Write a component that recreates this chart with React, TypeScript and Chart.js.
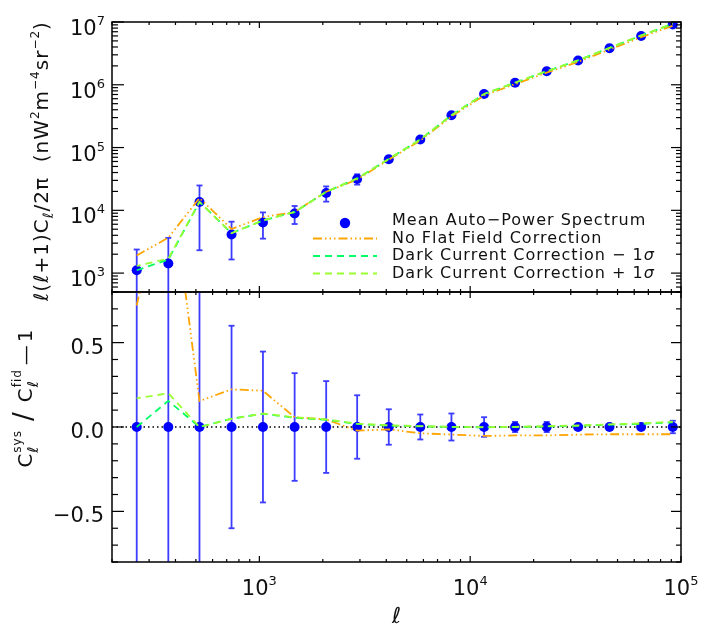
import React, { useEffect, useRef } from 'react';
import { Chart, registerables } from 'chart.js';

Chart.register(...registerables);

// ---------------- data ----------------
const ell = [262, 370, 520, 738, 1040, 1470, 2075, 2910, 4110, 5800, 8150, 11640, 16330, 23070, 32500, 45800, 64700, 91400];
const meanCl = [1110, 1420, 13600, 4120, 6400, 8890, 18900, 31600, 65200, 134000, 327000, 714000, 1080000, 1640000, 2430000, 3810000, 5980000, 9100000];
const relErr = [1.14, 1.56, 0.83, 0.6, 0.447, 0.319, 0.272, 0.188, 0.105, 0.074, 0.08, 0.058, 0.03, 0.03, 0.012, 0.012, 0.012, 0.037];
const noFlatFrac = [0.72, 1.58, 0.154, 0.223, 0.215, 0.058, 0.045, -0.022, -0.014, -0.037, -0.045, -0.053, -0.05, -0.05, -0.045, -0.043, -0.043, -0.043];
const darkMinusFrac = [0, 0.155, 0, 0.05, 0.078, 0.055, 0.043, 0.018, 0.008, 0.004, 0, -0.002, 0, 0.003, 0.007, 0.014, 0.018, 0.028];
const darkPlusFrac = [0.17, 0.2, 0, 0.048, 0.08, 0.057, 0.045, 0.02, 0.01, 0.005, 0.001, -0.001, 0.001, 0.005, 0.009, 0.016, 0.021, 0.032];

const xRange = [200, 1e5];
const yTopRange = [500, 1e7];
const yBotRange = [-0.8, 0.8];
const xTickExps = ['3', '4', '5'];
const yTopTickExps = ['3', '4', '5', '6', '7'];
const yBotTicks = [-0.5, 0, 0.5];
const yBotTickLabels = ['\u22120.5', '0.0', '0.5'];
const legendLabels = ['Mean Auto\u2212Power Spectrum', 'No Flat Field Correction', 'Dark Current Correction \u2212 1', 'Dark Current Correction + 1'];

// ---------------- styles ----------------
const W = 709;
const H = 629;
const LEFT = 112;
const RIGHT = 681;
const TOP = 22;
const MID = 292;
const BOTTOM = 562;
const FONT = '"DejaVu Sans", "Liberation Sans", sans-serif';
const TEXT = '#111';
const BLUE = '#0000ff';
const ERR_BLUE = '#3c3cff';
const ORANGE = '#ffa500';
const GREEN1 = '#00ff66';
const GREEN2 = '#99ff33';
const ORANGE_DASH = [9, 3, 1.5, 3, 1.5, 3, 1.5, 3];
const GREEN_DASH = [7, 5];

type Seg = { t: string; size: number; italic?: boolean; dy?: number; noAdv?: boolean; gap?: number };

function segFont(s: Seg) {
  return `${s.italic ? 'italic ' : ''}${s.size}px ${FONT}`;
}
function segsWidth(ctx: CanvasRenderingContext2D, segs: Seg[]) {
  let w = 0;
  for (const s of segs) {
    ctx.font = segFont(s);
    if (!s.noAdv) w += ctx.measureText(s.t).width;
    w += s.gap || 0;
  }
  return w;
}
function drawSegs(ctx: CanvasRenderingContext2D, segs: Seg[], x0: number, base: number) {
  let x = x0;
  for (const s of segs) {
    ctx.font = segFont(s);
    ctx.fillText(s.t, x, base + (s.dy || 0));
    if (!s.noAdv) x += ctx.measureText(s.t).width;
    x += s.gap || 0;
  }
}

function line(ctx: CanvasRenderingContext2D, x1: number, y1: number, x2: number, y2: number) {
  ctx.beginPath();
  ctx.moveTo(x1, y1);
  ctx.lineTo(x2, y2);
  ctx.stroke();
}

function drawPow(ctx: CanvasRenderingContext2D, exp: string, x: number, base: number, align: 'center' | 'right') {
  const segs: Seg[] = [
    { t: '10', size: 21 },
    { t: exp, size: 13, dy: -10 },
  ];
  const w = segsWidth(ctx, segs);
  const x0 = align === 'center' ? x - w / 2 : x - w;
  drawSegs(ctx, segs, x0, base);
}

function drawXTicks(ctx: CanvasRenderingContext2D, chart: any) {
  const xs = chart.scales.x;
  const a = chart.chartArea;
  for (let d = 2; d <= 5; d++) {
    for (let m = 1; m <= 9; m++) {
      const v = m * Math.pow(10, d);
      if (v < xRange[0] || v > xRange[1]) continue;
      const px = xs.getPixelForValue(v);
      const len = m === 1 ? 6 : 3;
      line(ctx, px, a.top, px, a.top + len);
      line(ctx, px, a.bottom, px, a.bottom - len);
    }
  }
}

function drawFrame(ctx: CanvasRenderingContext2D, chart: any) {
  const a = chart.chartArea;
  ctx.strokeStyle = '#000';
  ctx.lineWidth = 1.5;
  ctx.setLineDash([]);
  ctx.strokeRect(a.left, a.top, a.right - a.left, a.bottom - a.top);
  ctx.lineWidth = 1.2;
  drawXTicks(ctx, chart);
}

function errorBars(ctx: CanvasRenderingContext2D, chart: any, lo: number[], hi: number[], yMin: number, yMax: number) {
  const xs = chart.scales.x;
  const ys = chart.scales.y;
  const a = chart.chartArea;
  ctx.save();
  ctx.beginPath();
  ctx.rect(a.left, a.top, a.right - a.left, a.bottom - a.top);
  ctx.clip();
  ctx.strokeStyle = ERR_BLUE;
  ctx.lineWidth = 1.8;
  ctx.setLineDash([]);
  for (let i = 0; i < ell.length; i++) {
    const px = xs.getPixelForValue(ell[i]);
    const loV = lo[i];
    const hiV = hi[i];
    const pLo = loV > yMin ? ys.getPixelForValue(loV) : a.bottom + 2;
    const pHi = hiV < yMax ? ys.getPixelForValue(hiV) : a.top - 2;
    line(ctx, px, pLo, px, pHi);
    if (loV > yMin) line(ctx, px - 3, pLo, px + 3, pLo);
    if (hiV < yMax) line(ctx, px - 3, pHi, px + 3, pHi);
  }
  ctx.restore();
}

const topPlugin = {
  id: 'topPanel',
  beforeDatasetsDraw(chart: any) {
    const ctx = chart.ctx as CanvasRenderingContext2D;
    const lo = meanCl.map((v, i) => v * (1 - relErr[i]));
    const hi = meanCl.map((v, i) => v * (1 + relErr[i]));
    errorBars(ctx, chart, lo, hi, yTopRange[0], yTopRange[1]);
  },
  afterDraw(chart: any) {
    const ctx = chart.ctx as CanvasRenderingContext2D;
    const a = chart.chartArea;
    const ys = chart.scales.y;
    ctx.save();
    drawFrame(ctx, chart);
    // y ticks (log)
    for (let d = 2; d <= 7; d++) {
      for (let m = 1; m <= 9; m++) {
        const v = m * Math.pow(10, d);
        if (v < yTopRange[0] || v > yTopRange[1]) continue;
        const py = ys.getPixelForValue(v);
        const major = m === 1;
        line(ctx, a.left, py, a.left + (major ? 12 : 6), py);
        line(ctx, a.right, py, a.right - (major ? 10 : 5), py);
      }
    }
    ctx.fillStyle = TEXT;
    ctx.textBaseline = 'alphabetic';
    ctx.textAlign = 'left';
    for (const e of yTopTickExps) {
      const py = ys.getPixelForValue(Math.pow(10, Number(e)));
      drawPow(ctx, e, 105, py + 13, 'right');
    }
    // y title
    ctx.save();
    ctx.translate(48, 161);
    ctx.rotate(-Math.PI / 2);
    (ctx as any).letterSpacing = '1px';
    const tsegs: Seg[] = [
      { t: '\u2113', size: 20, italic: true },
      { t: '(', size: 20 },
      { t: '\u2113', size: 20, italic: true },
      { t: '+1)C', size: 20 },
      { t: '\u2113', size: 14, italic: true, dy: 5 },
      { t: '/2\u03c0', size: 20 },
      { t: '  (nW', size: 20 },
      { t: '2', size: 12, dy: -9 },
      { t: 'm', size: 20 },
      { t: '\u22124', size: 12, dy: -9 },
      { t: 'sr', size: 20 },
      { t: '\u22122', size: 12, dy: -9 },
      { t: ')', size: 20 },
    ];
    const tw = segsWidth(ctx, tsegs);
    drawSegs(ctx, tsegs, -tw / 2, 0);
    ctx.restore();
    // legend
    const rows = [221, 238.5, 256, 273.5];
    ctx.fillStyle = BLUE;
    ctx.beginPath();
    ctx.arc(345, 223, 5.2, 0, Math.PI * 2);
    ctx.fill();
    const lineStyles = [null, { c: ORANGE, d: ORANGE_DASH }, { c: GREEN1, d: GREEN_DASH }, { c: GREEN2, d: GREEN_DASH }];
    for (let i = 1; i < 4; i++) {
      const st = lineStyles[i]!;
      ctx.strokeStyle = st.c;
      ctx.lineWidth = 1.8;
      ctx.setLineDash(st.d);
      line(ctx, 313, rows[i], 377, rows[i]);
    }
    ctx.setLineDash([]);
    ctx.fillStyle = TEXT;
    ctx.textBaseline = 'middle';
    (ctx as any).letterSpacing = '1px';
    for (let i = 0; i < 4; i++) {
      ctx.font = `16px ${FONT}`;
      ctx.fillText(legendLabels[i], 392, rows[i]);
      if (i >= 2) {
        const w = ctx.measureText(legendLabels[i]).width;
        ctx.font = `italic 16px ${FONT}`;
        ctx.fillText('\u03c3', 392 + w, rows[i]);
      }
    }
    (ctx as any).letterSpacing = '0px';
    ctx.restore();
  },
};

const botPlugin = {
  id: 'botPanel',
  beforeDatasetsDraw(chart: any) {
    const ctx = chart.ctx as CanvasRenderingContext2D;
    const a = chart.chartArea;
    const ys = chart.scales.y;
    ctx.save();
    ctx.strokeStyle = '#000';
    ctx.lineWidth = 1.5;
    ctx.setLineDash([1.5, 3]);
    const y0 = ys.getPixelForValue(0);
    line(ctx, a.left, y0, a.right, y0);
    ctx.restore();
    const lo = relErr.map((r) => -r);
    const hi = relErr.map((r) => r);
    errorBars(ctx, chart, lo, hi, yBotRange[0], yBotRange[1]);
  },
  afterDraw(chart: any) {
    const ctx = chart.ctx as CanvasRenderingContext2D;
    const a = chart.chartArea;
    const ys = chart.scales.y;
    const xs = chart.scales.x;
    ctx.save();
    drawFrame(ctx, chart);
    for (let k = -8; k <= 8; k++) {
      const py = ys.getPixelForValue(k / 10);
      const major = k % 5 === 0;
      line(ctx, a.left, py, a.left + (major ? 12 : 6), py);
      line(ctx, a.right, py, a.right - (major ? 10 : 5), py);
    }
    ctx.fillStyle = TEXT;
    ctx.textBaseline = 'alphabetic';
    ctx.textAlign = 'right';
    ctx.font = `21px ${FONT}`;
    yBotTicks.forEach((v, i) => {
      const py = ys.getPixelForValue(v);
      ctx.fillText(yBotTickLabels[i], 104, py + 11);
    });
    ctx.textAlign = 'left';
    for (const e of xTickExps) {
      const px = xs.getPixelForValue(Math.pow(10, Number(e)));
      drawPow(ctx, e, px, 595, 'center');
    }
    // x title
    ctx.textAlign = 'center';
    ctx.font = `italic 22px ${FONT}`;
    ctx.fillText('\u2113', (a.left + a.right) / 2, 623);
    ctx.textAlign = 'left';
    // y title
    ctx.save();
    ctx.translate(32, 398);
    ctx.rotate(-Math.PI / 2);
    const bsegs: Seg[] = [
      { t: 'C', size: 20 },
      { t: '\u2113', size: 15, italic: true, dy: 6, noAdv: true },
      { t: 'sys', size: 12, dy: -11, gap: 9 },
      { t: '/', size: 26, gap: 9 },
      { t: 'C', size: 20 },
      { t: '\u2113', size: 15, italic: true, dy: 6, noAdv: true },
      { t: 'fid', size: 12, dy: -11, gap: 4 },
      { t: '\u2014', size: 20, gap: 2 },
      { t: '1', size: 20 },
    ];
    (ctx as any).letterSpacing = '1px';
    const bw = segsWidth(ctx, bsegs);
    drawSegs(ctx, bsegs, -bw / 2, 0);
    (ctx as any).letterSpacing = '0px';
    ctx.restore();
    ctx.restore();
  },
};

function makeDatasets(vals: (frac: number[]) => { x: number; y: number }[], pts: { x: number; y: number }[]) {
  return [
    { label: 'Mean Auto-Power Spectrum', data: pts, showLine: false, pointRadius: 5, pointBorderWidth: 0, backgroundColor: BLUE, borderColor: BLUE, order: 3 },
    { label: 'No Flat Field Correction', data: vals(noFlatFrac), showLine: true, pointRadius: 0, borderColor: ORANGE, borderWidth: 1.8, borderDash: ORANGE_DASH, tension: 0, order: 2 },
    { label: 'Dark Current Correction - 1sigma', data: vals(darkMinusFrac), showLine: true, pointRadius: 0, borderColor: GREEN1, borderWidth: 1.8, borderDash: GREEN_DASH, tension: 0, order: 1 },
    { label: 'Dark Current Correction + 1sigma', data: vals(darkPlusFrac), showLine: true, pointRadius: 0, borderColor: GREEN2, borderWidth: 1.8, borderDash: GREEN_DASH, borderDashOffset: 3, tension: 0, order: 0 },
  ];
}

function baseOptions(yType: 'logarithmic' | 'linear', yr: number[], padTop: number, padBottom: number) {
  return {
    animation: false as const,
    responsive: false,
    maintainAspectRatio: false,
    events: [] as any[],
    layout: { padding: { left: LEFT, right: W - RIGHT, top: padTop, bottom: padBottom } },
    scales: {
      x: { type: 'logarithmic' as const, min: xRange[0], max: xRange[1], display: false },
      y: { type: yType, min: yr[0], max: yr[1], display: false },
    },
    plugins: { legend: { display: false }, tooltip: { enabled: false } },
  };
}

export default function App() {
  const topRef = useRef<HTMLCanvasElement>(null);
  const botRef = useRef<HTMLCanvasElement>(null);
  useEffect(() => {
    const topChart = new Chart(topRef.current as HTMLCanvasElement, {
      type: 'scatter',
      data: {
        datasets: makeDatasets(
          (frac) => ell.map((x, i) => ({ x, y: meanCl[i] * (1 + frac[i]) })),
          ell.map((x, i) => ({ x, y: meanCl[i] })),
        ) as any,
      },
      options: baseOptions('logarithmic', yTopRange, TOP, H - MID) as any,
      plugins: [topPlugin as any],
    });
    const botChart = new Chart(botRef.current as HTMLCanvasElement, {
      type: 'scatter',
      data: {
        datasets: makeDatasets(
          (frac) => ell.map((x, i) => ({ x, y: frac[i] })),
          ell.map((x) => ({ x, y: 0 })),
        ) as any,
      },
      options: baseOptions('linear', yBotRange, MID, H - BOTTOM) as any,
      plugins: [botPlugin as any],
    });
    return () => {
      topChart.destroy();
      botChart.destroy();
    };
  }, []);
  return (
    <div style={{ position: 'absolute', left: 0, top: 0, width: W, height: H, background: '#fff' }}>
      <canvas ref={topRef} width={W} height={H} style={{ position: 'absolute', left: 0, top: 0 }} />
      <canvas ref={botRef} width={W} height={H} style={{ position: 'absolute', left: 0, top: 0 }} />
    </div>
  );
}
